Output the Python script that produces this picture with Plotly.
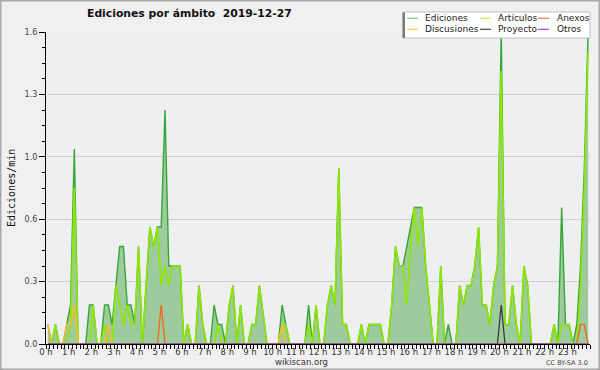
import plotly.graph_objects as go

# 10-minute bins, values in edits/min (bin centre at (i+0.5)*10 min)
hours_per_bin = 1 / 6

ediciones = [
    0.1, 0, 0.1, 0, 0, 0.1, 0.2, 1.0, 0, 0, 0, 0.2,
    0.2, 0, 0, 0.2, 0.2, 0.1, 0.3, 0.5, 0.5, 0.2, 0.2, 0.1,
    0.5, 0, 0.3, 0.6, 0.5, 0.6, 0.6, 1.2, 0.4, 0.4, 0.4, 0.4,
    0, 0.1, 0, 0, 0.3, 0.1, 0, 0, 0.2, 0.1, 0.1, 0,
    0.2, 0.3, 0, 0.2, 0, 0, 0.1, 0.1, 0.3, 0.15, 0, 0,
    0, 0, 0.2, 0.1, 0, 0, 0, 0, 0, 0.2, 0, 0.2,
    0, 0, 0.2, 0.3, 0.2, 0.9, 0.1, 0.1, 0, 0, 0, 0.1,
    0, 0.1, 0.1, 0.1, 0.1, 0, 0, 0.2, 0.5, 0.4, 0.4, 0.5,
    0.6, 0.7, 0.7, 0.7, 0.4, 0.2, 0, 0, 0.4, 0, 0.1, 0,
    0, 0.3, 0.2, 0.3, 0.3, 0.4, 0.6, 0.2, 0.2, 0.1, 0.3, 0.4,
    1.6, 0.1, 0.1, 0.3, 0.1, 0, 0.4, 0.3, 0, 0, 0, 0,
    0, 0, 0.1, 0, 0.7, 0.1, 0.1, 0, 0.1, 0.4, 0.9, 1.6,
]

articulos = [
    0, 0, 0.1, 0, 0, 0, 0.1, 0.8, 0, 0, 0, 0,
    0.2, 0, 0, 0.1, 0, 0, 0.3, 0.2, 0.1, 0.2, 0.1, 0.1,
    0.5, 0, 0.3, 0.6, 0.5, 0.6, 0.3, 0.4, 0.3, 0.4, 0.4, 0.4,
    0, 0.1, 0, 0, 0.3, 0.1, 0, 0, 0, 0.1, 0, 0,
    0.2, 0.3, 0, 0.2, 0, 0, 0.1, 0.1, 0.3, 0.15, 0, 0,
    0, 0, 0.1, 0.1, 0, 0, 0, 0, 0, 0.1, 0, 0.2,
    0, 0, 0.2, 0.3, 0.2, 0.9, 0.1, 0.1, 0, 0, 0, 0.1,
    0, 0.1, 0.1, 0.1, 0.1, 0, 0, 0.2, 0.5, 0.4, 0.4, 0.2,
    0.5, 0.7, 0.5, 0.7, 0.4, 0.2, 0, 0, 0.4, 0, 0, 0,
    0, 0.3, 0.2, 0.3, 0.3, 0.4, 0.6, 0.2, 0.2, 0.1, 0.3, 0.4,
    1.4, 0.1, 0.1, 0.3, 0.1, 0, 0.4, 0.3, 0, 0, 0, 0,
    0, 0, 0.1, 0, 0.1, 0.1, 0.1, 0, 0, 0.3, 0.8, 1.5,
]

n_bins = len(ediciones)

# sparse series: {bin index: value}
discusiones_pts = {0: 0.1, 5: 0.1, 6: 0.1, 7: 0.2, 16: 0.1, 62: 0.1}
anexos_pts = {30: 0.2, 141: 0.1, 142: 0.1}
proyecto_pts = {120: 0.2}
otros_pts = {}


def expand(pts):
    return [pts.get(i, 0) for i in range(n_bins)]


discusiones = expand(discusiones_pts)
anexos = expand(anexos_pts)
proyecto = expand(proyecto_pts)
otros = expand(otros_pts)

x_hours = [(i + 0.5) * hours_per_bin for i in range(n_bins)]

hour_ticks = list(range(24))
hour_labels = [f"{h} h" for h in hour_ticks]
y_ticks = [0, 0.32, 0.64, 0.96, 1.28, 1.6]
y_labels = ["0.0", "0.3", "0.6", "1.0", "1.3", "1.6"]

series = [
    ("Ediciones", ediciones, "#37a637", 1.4),
    ("Artículos", articulos, "#8fe600", 1.6),
    ("Discusiones", discusiones, "#ffbb22", 1.4),
    ("Anexos", anexos, "#ee6a22", 1.4),
    ("Proyecto", proyecto, "#333333", 1.2),
    ("Otros", otros, "#9955ee", 1.2),
]
legend_colors = {
    "Ediciones": "#88cc88", "Artículos": "#c8ee55", "Anexos": "#ee7744",
    "Discusiones": "#ffcc44", "Proyecto": "#444444", "Otros": "#9944ee",
}

fig = go.Figure()
for name, vals, color, w in series:
    kw = {}
    if name == "Ediciones":
        kw = dict(fill="tozeroy", fillcolor="#9ecb9e")
    fig.add_trace(go.Scatter(
        x=x_hours, y=vals, mode="lines", name=name,
        line=dict(color=color, width=w), showlegend=False, **kw))

FONT = "DejaVu Sans"
W, H = 600, 370
L, R, T, B = 46, 10, 32, 26
PW, PH = W - L - R, H - T - B


def px(xp):
    return (xp - L) / PW


def py(yp):
    return (H - B - yp) / PH


shapes = []
annotations = []

# outer border
shapes.append(dict(type="rect", xref="paper", yref="paper",
                   x0=px(0.7), x1=px(599.3), y0=py(369.3), y1=py(0.7),
                   line=dict(color="#a8a8a8", width=1.5), layer="above"))

# legend box
shapes.append(dict(type="rect", xref="paper", yref="paper",
                   x0=px(403), x1=px(590), y0=py(38), y1=py(12),
                   line=dict(color="#bdbdbd", width=1), fillcolor="#ffffff",
                   layer="above"))
shapes.append(dict(type="rect", xref="paper", yref="paper",
                   x0=px(402.5), x1=px(405), y0=py(38), y1=py(12.5),
                   line=dict(width=0), fillcolor="#7a7a7a", layer="above"))

legend_layout = [
    ("Ediciones", 407, 423, 18.3), ("Artículos", 480, 496, 18.3), ("Anexos", 538, 555, 18.3),
    ("Discusiones", 407, 423, 29.3), ("Proyecto", 480, 496, 29.3), ("Otros", 538, 555, 29.3),
]
for name, lx, tx, ly in legend_layout:
    shapes.append(dict(type="line", xref="paper", yref="paper",
                       x0=px(lx), x1=px(lx + 11), y0=py(ly), y1=py(ly),
                       line=dict(color=legend_colors[name], width=1.2), layer="above"))
    annotations.append(dict(text=name, xref="paper", yref="paper",
                            x=px(tx), y=py(ly), xanchor="left", yanchor="middle",
                            showarrow=False, font=dict(family=FONT, size=9, color="#222")))

# title
annotations.append(dict(text="<b>Ediciones por ámbito \u00a02019-12-27</b>",
                        xref="paper", yref="paper", x=px(85), y=py(14),
                        xanchor="left", yanchor="middle", showarrow=False,
                        font=dict(family=FONT, size=10.8, color="#111")))
# y title
annotations.append(dict(text="Ediciones/min", xref="paper", yref="paper",
                        x=px(11), y=py(188), textangle=-90, xanchor="center",
                        yanchor="middle", showarrow=False,
                        font=dict(family="DejaVu Sans Mono", size=10, color="#111")))
annotations.append(dict(text="wikiscan.org", xref="paper", yref="paper",
                        x=px(301), y=py(362), xanchor="center", yanchor="middle",
                        showarrow=False, font=dict(family=FONT, size=8.5, color="#333")))
annotations.append(dict(text="CC BY-SA 3.0", xref="paper", yref="paper",
                        x=px(590), y=py(363), xanchor="right", yanchor="middle",
                        showarrow=False, font=dict(family=FONT, size=6.5, color="#444")))

fig.update_layout(
    width=W, height=H,
    margin=dict(l=L, r=R, t=T, b=B),
    paper_bgcolor="#f0f0f0",
    plot_bgcolor="#eeeff0",
    showlegend=False,
    shapes=shapes,
    annotations=annotations,
    xaxis=dict(
        range=[0, 24], tickmode="array", tickvals=hour_ticks, ticktext=hour_labels,
        ticks="outside", ticklen=4, tickcolor="#000", tickwidth=1,
        ticklabelstandoff=-4,
        showline=True, linecolor="#000", linewidth=1.2, showgrid=False, zeroline=False,
        tickfont=dict(family=FONT, size=8.5, color="#333"),
        minor=dict(dtick=hours_per_bin, tick0=0, ticks="outside", ticklen=4,
                   tickcolor="#000", showgrid=False),
        fixedrange=True,
    ),
    yaxis=dict(
        range=[0, 1.6], tickmode="array", tickvals=y_ticks, ticktext=y_labels,
        ticks="outside", ticklen=6, tickcolor="#000", tickwidth=1,
        showline=True, linecolor="#000", linewidth=1.2,
        showgrid=True, gridcolor="#cfcfcf", gridwidth=1, zeroline=False,
        tickfont=dict(family=FONT, size=8, color="#444"),
        minor=dict(dtick=0.08, tick0=0, ticks="outside", ticklen=3,
                   tickcolor="#000", showgrid=False),
        fixedrange=True,
    ),
)

fig.write_html(
    "out.html",
    config={"displayModeBar": False},
    post_script="document.body.style.margin='0';document.body.style.overflow='hidden';",
)
